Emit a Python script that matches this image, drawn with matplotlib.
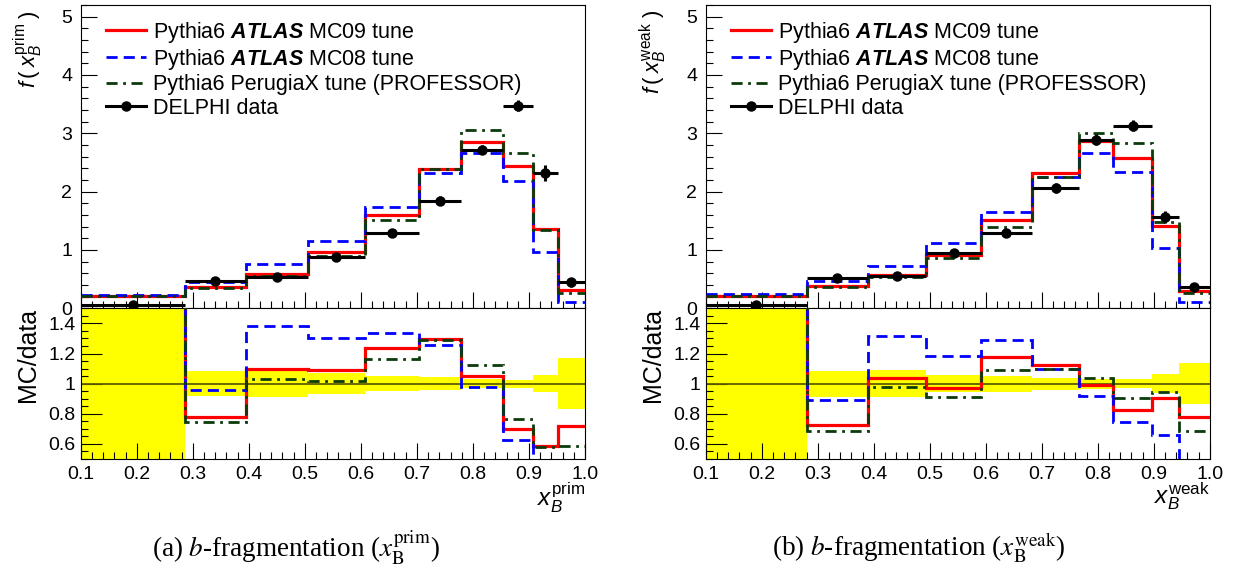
import numpy as np
import matplotlib
matplotlib.use("Agg")
import matplotlib.pyplot as plt
from matplotlib.lines import Line2D
from matplotlib.ticker import MultipleLocator, FormatStrFormatter

plt.rcParams['font.family'] = ['Liberation Sans', 'DejaVu Sans']
plt.rcParams['mathtext.fontset'] = 'custom'
plt.rcParams['mathtext.rm'] = 'Liberation Sans'
plt.rcParams['mathtext.it'] = 'Liberation Sans:italic'
# bold is only used for the ATLAS word in the legend, which is bold italic
plt.rcParams['mathtext.bf'] = 'Liberation Sans:bold:italic'

##############################################################
########################## DATA ##############################
##############################################################

# x_B^prim distribution
edges_prim = [0.1, 0.286, 0.395, 0.505, 0.608, 0.703, 0.779, 0.853, 0.907, 0.951, 1.0]
data_prim = [0.06, 0.473, 0.542, 0.885, 1.297, 1.846, 2.72, 3.475, 2.32, 0.446]
err_prim = [0.04, 0.039, 0.049, 0.062, 0.065, 0.078, 0.082, 0.095, 0.135, 0.076]
mc09_prim = [0.215, 0.369, 0.593, 0.963, 1.60, 2.389, 2.859, 2.433, 1.357, 0.321]
mc08_prim = [0.235, 0.453, 0.751, 1.151, 1.73, 2.319, 2.655, 2.179, 0.97, 0.113]
perugia_prim = [0.205, 0.354, 0.56, 0.901, 1.506, 2.381, 3.057, 2.662, 1.346, 0.26]

# x_B^weak distribution
edges_weak = [0.1, 0.28, 0.39, 0.494, 0.591, 0.683, 0.767, 0.828, 0.897, 0.945, 1.0]
data_weak = [0.057, 0.525, 0.554, 0.943, 1.286, 2.058, 2.892, 3.13, 1.561, 0.371]
err_weak = [0.04, 0.045, 0.049, 0.055, 0.067, 0.082, 0.095, 0.094, 0.101, 0.05]
mc09_weak = [0.215, 0.38, 0.576, 0.916, 1.511, 2.313, 2.866, 2.585, 1.41, 0.289]
mc08_weak = [0.24, 0.467, 0.729, 1.116, 1.655, 2.258, 2.655, 2.341, 1.027, 0.113]
perugia_weak = [0.205, 0.361, 0.541, 0.857, 1.402, 2.258, 3.008, 2.826, 1.478, 0.255]

labels = ["Pythia6 $\\mathbf{ATLAS}$ MC09 tune",
          "Pythia6 $\\mathbf{ATLAS}$ MC08 tune",
          "Pythia6 PerugiaX tune (PROFESSOR)",
          "DELPHI data"]

##############################################################
######################### STYLE ##############################
##############################################################

W, H = 1237, 570
GREEN = '#0b3b0b'
ls_mc08 = (0, (4, 2.2))
ls_perugia = (0, (4, 2, 1, 2))

fig = plt.figure(figsize=(W / 100, H / 100), dpi=100)


def px_axes(x0, x1, ytop, ybot):
    return fig.add_axes([x0 / W, 1 - ybot / H, (x1 - x0) / W, (ybot - ytop) / H])


def style_ticks(ax, ymaj_len):
    for s in ax.spines.values():
        s.set_linewidth(0.8)
    ax.tick_params(which='both', direction='in', top=False, right=False,
                   width=0.8, labelsize=14)
    ax.tick_params(axis='x', which='major', length=11.5, pad=5)
    ax.tick_params(axis='x', which='minor', length=5)
    ax.tick_params(axis='y', which='major', length=ymaj_len)
    ax.tick_params(axis='y', which='minor', length=5)
    ax.xaxis.set_major_locator(MultipleLocator(0.1))
    ax.xaxis.set_minor_locator(MultipleLocator(0.02))
    ax.set_xlim(0.1, 1.0)


def draw_panel(x0, x1, edges, data, err, mc09, mc08, perugia, var, letter, cap_x):
    edges = np.asarray(edges)
    data = np.asarray(data)
    err = np.asarray(err)
    mc09 = np.asarray(mc09)
    mc08 = np.asarray(mc08)
    perugia = np.asarray(perugia)
    centers = 0.5 * (edges[1:] + edges[:-1])
    half = 0.5 * np.diff(edges)

    top = px_axes(x0, x1, 5, 308.3)
    bot = px_axes(x0, x1, 308.3, 459)

    # ---- distribution ----
    top.stairs(mc09, edges, baseline=None, color='red', lw=2.3, zorder=3)
    top.stairs(mc08, edges, baseline=None, color='blue', lw=2.0, ls=ls_mc08, zorder=3)
    top.stairs(perugia, edges, baseline=None, color=GREEN, lw=2.0, ls=ls_perugia, zorder=3)
    top.errorbar(centers, data, xerr=half, yerr=err, fmt='o', color='k', ms=6.5,
                 elinewidth=2.2, capsize=0, zorder=4)
    top.set_ylim(0, 5.2)
    style_ticks(top, 11.5)
    top.yaxis.set_major_locator(MultipleLocator(1))
    top.yaxis.set_minor_locator(MultipleLocator(0.2))
    top.tick_params(axis='y', which='major', pad=6)
    top.tick_params(axis='x', labelbottom=False)

    handles = [Line2D([], [], color='red', lw=2.3),
               Line2D([], [], color='blue', lw=2.0, ls=ls_mc08),
               Line2D([], [], color=GREEN, lw=2.0, ls=ls_perugia),
               Line2D([], [], color='k', lw=2.2, marker='o', ms=6.5)]
    top.legend(handles, labels, loc='upper left', bbox_to_anchor=(0.05, 0.952),
               frameon=False, fontsize=15.5, handlelength=1.87, handletextpad=0.33,
               labelspacing=0.11, borderpad=0, borderaxespad=0)

    top.text(-0.1045, 0.9835, r"$f\,(\;x_{B}^{\mathrm{%s}}\;)$" % var,
             transform=top.transAxes, rotation=90, ha='center', va='top', fontsize=16)

    # ---- MC / data ----
    rel = err / data
    bot.stairs(1 + rel, edges, baseline=1 - rel, fill=True, color='#ffff00', lw=0, zorder=1)
    bot.axhline(1, color='#5f5f00', lw=1.3, zorder=2)
    bot.stairs(mc09 / data, edges, baseline=None, color='red', lw=2.3, zorder=3)
    bot.stairs(mc08 / data, edges, baseline=None, color='blue', lw=2.0, ls=ls_mc08, zorder=3)
    bot.stairs(perugia / data, edges, baseline=None, color=GREEN, lw=2.0, ls=ls_perugia, zorder=3)
    bot.set_ylim(0.5, 1.5)
    style_ticks(bot, 15)
    bot.yaxis.set_major_locator(MultipleLocator(0.2))
    bot.yaxis.set_minor_locator(MultipleLocator(0.05))
    bot.yaxis.set_major_formatter(FormatStrFormatter('%g'))
    bot.xaxis.set_major_formatter(FormatStrFormatter('%.1f'))
    bot.tick_params(axis='y', which='major', pad=3.5)

    bot.text(-0.104, 1.0, "MC/data", transform=bot.transAxes, rotation=90,
             ha='center', va='top', fontsize=18)
    bot.text(1.0, -0.14, r"$x_{B}^{\mathrm{%s}}$" % var, transform=bot.transAxes,
             ha='right', va='top', fontsize=17.5)

    fig.text(cap_x / W, 1 - 548 / H,
             r"(%s) $b$-fragmentation ($x_{\mathrm{B}}^{\mathrm{%s}}$)" % (letter, var),
             ha='center', va='center', fontsize=19.5, family='Liberation Serif',
             math_fontfamily='stix')


draw_panel(80.7, 585, edges_prim, data_prim, err_prim, mc09_prim, mc08_prim,
           perugia_prim, 'prim', 'a', 296)
draw_panel(705.7, 1209.7, edges_weak, data_weak, err_weak, mc09_weak, mc08_weak,
           perugia_weak, 'weak', 'b', 919)

fig.savefig('out.png', dpi=100)
